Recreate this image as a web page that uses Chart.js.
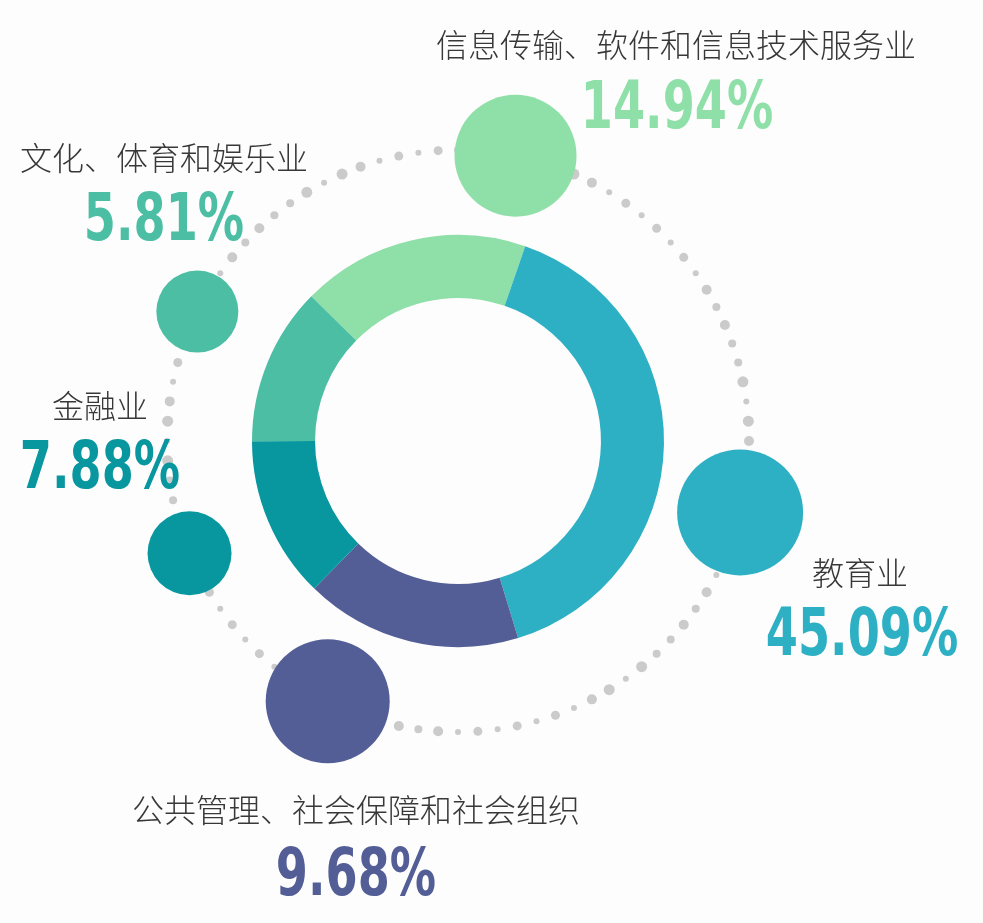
<!DOCTYPE html>
<html>
<head>
<meta charset="utf-8">
<script src="https://cdn.jsdelivr.net/npm/chart.js"></script>
<style>
  html, body { margin: 0; padding: 0; background: #fdfdfd; }
  #wrap { width: 983px; height: 923px; }
</style>
</head>
<body>
<div id="wrap"><canvas id="ringChart" width="983" height="923"></canvas></div>
<script>
// 行业分布
const categories = ['信息传输、软件和信息技术服务业', '教育业', '公共管理、社会保障和社会组织', '金融业', '文化、体育和娱乐业'];
const percents = [14.94, 45.09, 9.68, 7.88, 5.81];
// 环形图中各段实际画出的占比(读自原图, 原图并未按百分比作画)
const ringShares = [17.9, 40.0, 17.0, 12.7, 12.4];

const colors = ['#8fdfa8', '#2eb0c4', '#535e96', '#08969f', '#4cbea4'];

// 装饰圆点和文字的位置
const bubbleAngle = [11.4, 104.2, 206.6, 247.3, 296.4];
const bubbleRadius = [61, 63, 62, 42, 41];
const labelPos = [[676, 45], [860, 573], [356, 810], [100, 406], [164, 158]];
const numberPos = [[677, 128], [862, 655], [356, 895], [100, 488], [164, 240]];
const RING_R = 291;
const dotSizes = [4, 5, 4, 4, 5.5, 3, 5.5, 5, 3, 4.5, 3, 4.5, 3, 4.5, 3, 5];

const decor = {
    id: 'decor',
    beforeDatasetsDraw(chart) {
        const ctx = chart.ctx;
        const arc = chart.getDatasetMeta(0).data[0];
        const cx = arc.x, cy = arc.y;
        ctx.save();
        // 虚线圆环
        ctx.fillStyle = '#cbcbcb';
        const n = 92;
        for (let i = 0; i < n; i++) {
            const a = (i / n) * Math.PI * 2;
            ctx.beginPath();
            ctx.arc(cx + RING_R * Math.sin(a), cy - RING_R * Math.cos(a), dotSizes[i % dotSizes.length], 0, Math.PI * 2);
            ctx.fill();
        }
        // 各行业圆点
        bubbleAngle.forEach((deg, i) => {
            const a = deg * Math.PI / 180;
            ctx.fillStyle = colors[i];
            ctx.beginPath();
            ctx.arc(cx + RING_R * Math.sin(a), cy - RING_R * Math.cos(a), bubbleRadius[i], 0, Math.PI * 2);
            ctx.fill();
        });
        ctx.restore();
    },
    afterDraw(chart) {
        const ctx = chart.ctx;
        ctx.save();
        ctx.textAlign = 'center';
        categories.forEach((name, i) => {
            ctx.fillStyle = '#383838';
            ctx.font = '300 32px "Noto Sans CJK SC"';
            ctx.textBaseline = 'middle';
            ctx.fillText(name, labelPos[i][0], labelPos[i][1]);

            ctx.save();
            ctx.translate(numberPos[i][0], numberPos[i][1]);
            ctx.scale(0.7, 1);
            ctx.fillStyle = colors[i];
            ctx.font = 'bold 66px "DejaVu Sans"';
            ctx.textBaseline = 'alphabetic';
            ctx.fillText(percents[i].toFixed(2) + '%', 0, 0);
            ctx.restore();
        });
        ctx.restore();
    }
};

const ctx = document.getElementById('ringChart').getContext('2d');
new Chart(ctx, {
    type: 'doughnut',
    data: {
        labels: categories,
        datasets: [{
            data: ringShares,
            backgroundColor: colors,
            borderWidth: 0
        }]
    },
    options: {
        responsive: false,
        animation: false,
        devicePixelRatio: 1,
        rotation: -45.4,
        cutout: '69.4%',
        radius: 206,
        layout: {
            padding: { left: 252, right: 319, top: 235, bottom: 276 }
        },
        plugins: {
            legend: { display: false },
            tooltip: { enabled: false }
        }
    },
    plugins: [decor]
});
</script>
</body>
</html>
